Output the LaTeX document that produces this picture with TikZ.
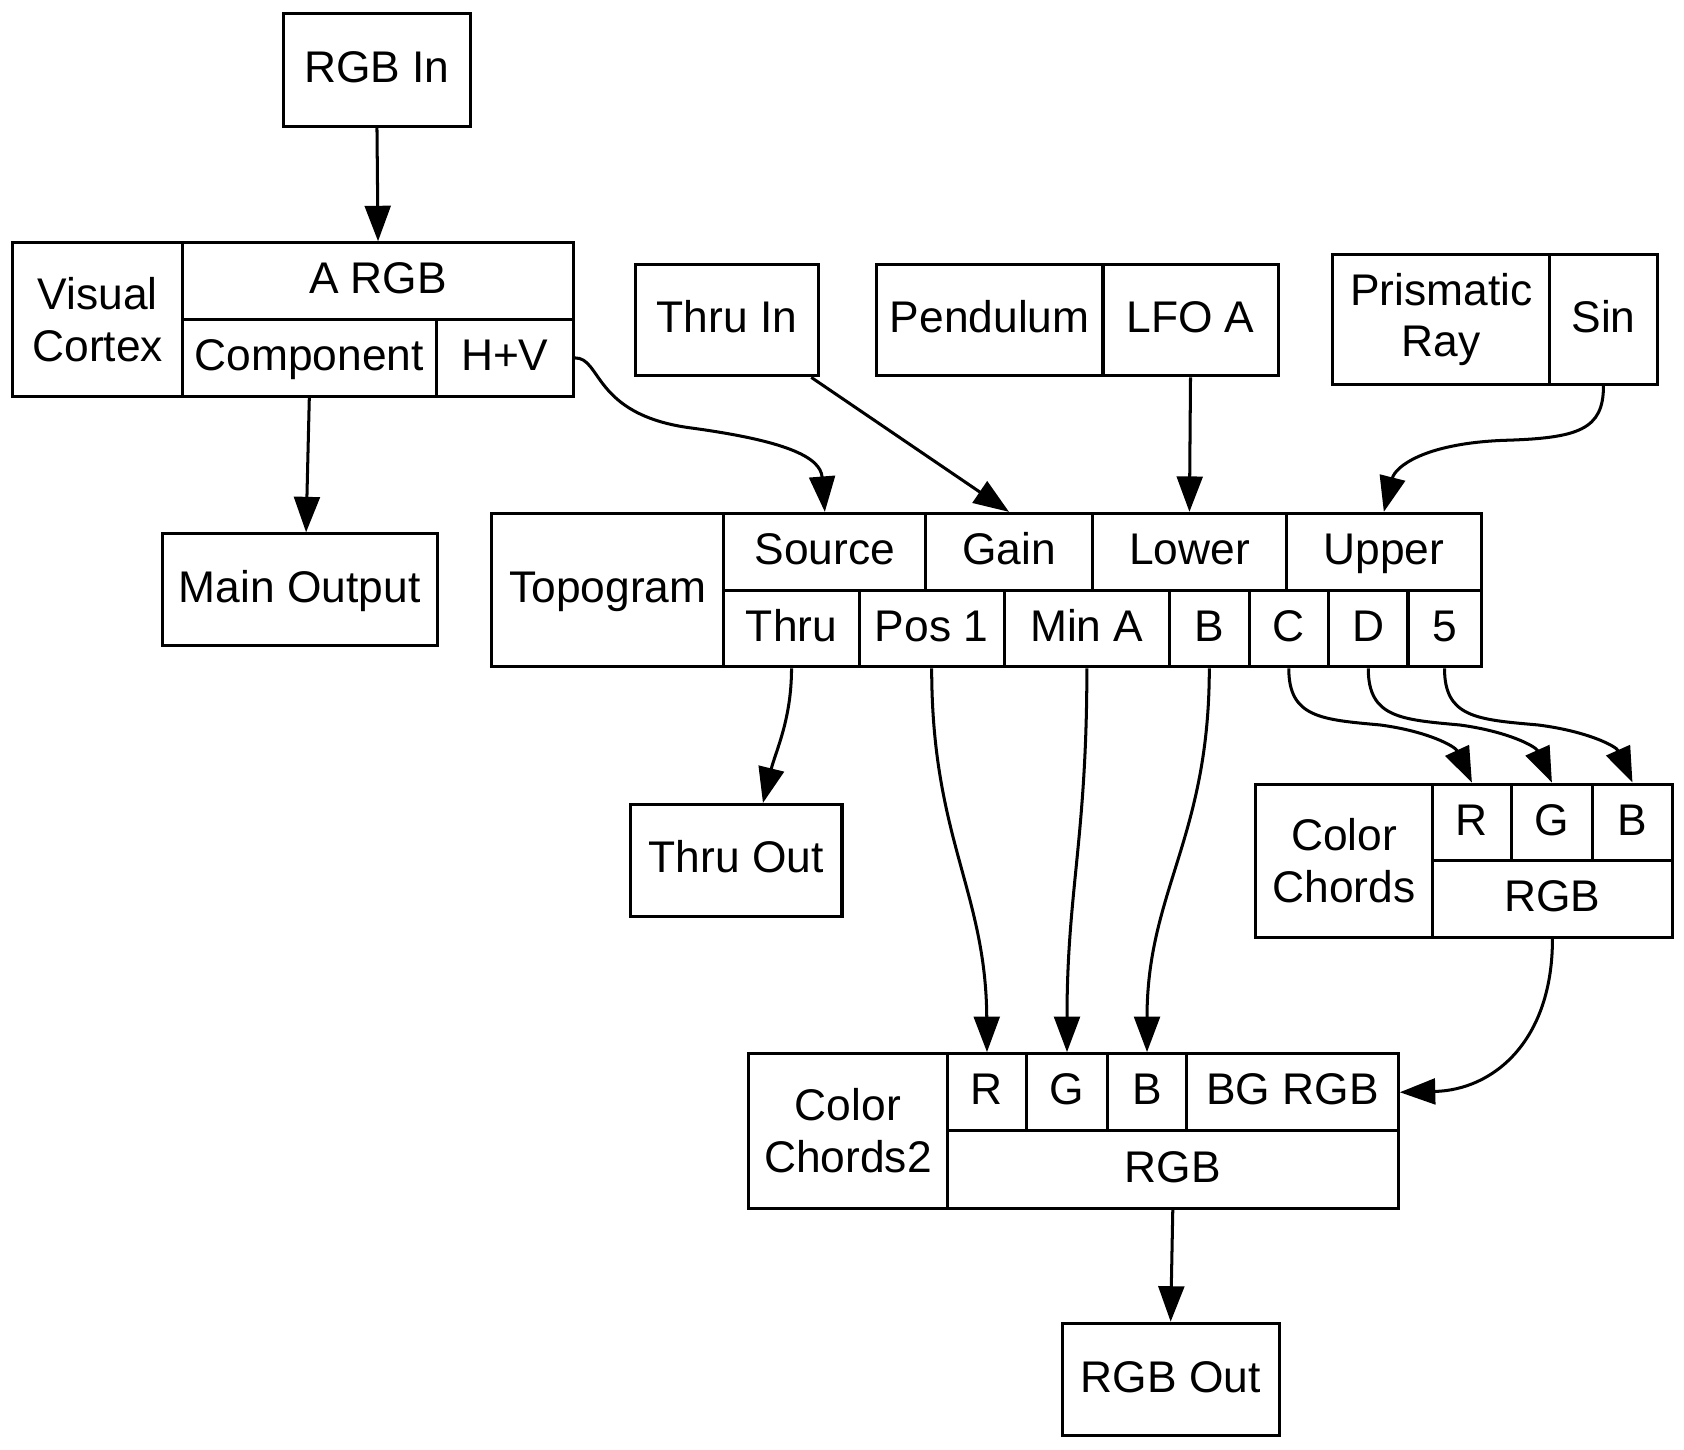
\documentclass[tikz,border=0pt]{standalone}
\usepackage{fontspec}
\setmainfont{Liberation Sans}
\usetikzlibrary{arrows.meta}
\tikzset{>={Triangle[length=6.6mm,width=4.8mm]}}
\tikzstyle{cell} = [rectangle, draw=black, line width=1.6pt, inner sep=0pt, align=center]
\tikzstyle{one} = [text height=18.4pt, text depth=5pt]
\tikzstyle{wire} = [->, line width=1.6pt, draw=black]

\begin{document}
\begin{tikzpicture}[x=0.02cm, y=-0.02cm, font=\fontsize{23.5}{27.5}\selectfont]
\useasboundingbox (0, 0) rectangle (1568, 1350);

% inputs
\node [cell, one, minimum width=3.48cm, minimum height=2.1cm] (RGBin) at (351, 65.5) {RGB In};
\node [cell, one, minimum width=3.4cm, minimum height=2.08cm] (THin) at (677, 298) {Thru In};
\node [cell, one, minimum width=4.22cm, minimum height=2.08cm] (PD0) at (921.5, 298) {Pendulum};
\node [cell, one, minimum width=3.26cm, minimum height=2.08cm] (PD1) at (1108.5, 298) {LFO A};
\node [cell, minimum width=4.04cm, minimum height=2.42cm] (PR0) at (1342, 297.5) {Prismatic\\Ray};
\node [cell, one, minimum width=2cm, minimum height=2.42cm] (PR1) at (1493, 297.5) {Sin};

% visual cortex
\node [cell, minimum width=3.16cm, minimum height=2.86cm] (VC0) at (91, 297.5) {Visual\\Cortex};
\node [cell, one, minimum width=7.28cm, minimum height=1.43cm] (VC1) at (352, 261.75) {A RGB};
\node [cell, one, minimum width=4.72cm, minimum height=1.43cm] (VC2) at (288, 333.25) {Component};
\node [cell, one, minimum width=2.56cm, minimum height=1.43cm] (VC3) at (470, 333.25) {H+V};
\node [cell, one, minimum width=5.12cm, minimum height=2.08cm] (MAINout) at (279, 549) {Main Output};

% topogram
\node [cell, one, minimum width=4.32cm, minimum height=2.86cm] (TP0) at (566, 549.5) {Topogram};
\node [cell, one, minimum width=3.76cm, minimum height=1.43cm] (TP1) at (768, 513.75) {Source};
\node [cell, one, minimum width=3.1cm, minimum height=1.43cm] (TP2) at (939.5, 513.75) {Gain};
\node [cell, one, minimum width=3.62cm, minimum height=1.43cm] (TP3) at (1107.5, 513.75) {Lower};
\node [cell, one, minimum width=3.62cm, minimum height=1.43cm] (TP4) at (1288.5, 513.75) {Upper};
\node [cell, one, minimum width=2.52cm, minimum height=1.43cm] (TP5) at (737, 585.25) {Thru};
\node [cell, one, minimum width=2.7cm, minimum height=1.43cm] (TP6) at (867.5, 585.25) {Pos 1};
\node [cell, one, minimum width=3.08cm, minimum height=1.43cm] (TP7) at (1012, 585.25) {Min A};
\node [cell, one, minimum width=1.48cm, minimum height=1.43cm] (TP8) at (1126, 585.25) {B};
\node [cell, one, minimum width=1.48cm, minimum height=1.43cm] (TP9) at (1200, 585.25) {C};
\node [cell, one, minimum width=1.48cm, minimum height=1.43cm] (TP10) at (1274, 585.25) {D};
\node [cell, one, minimum width=1.36cm, minimum height=1.43cm] (TP11) at (1345, 585.25) {5};
\node [cell, one, minimum width=3.94cm, minimum height=2.08cm] (THout) at (685.5, 801) {Thru Out};

% color chords
\node [cell, minimum width=3.3cm, minimum height=2.86cm] (CC0) at (1251.5, 801.5) {Color\\Chords};
\node [cell, one, minimum width=1.46cm, minimum height=1.43cm] (CC1) at (1370.5, 765.75) {R};
\node [cell, one, minimum width=1.52cm, minimum height=1.43cm] (CC2) at (1445, 765.75) {G};
\node [cell, one, minimum width=1.48cm, minimum height=1.43cm] (CC3) at (1520, 765.75) {B};
\node [cell, one, minimum width=4.46cm, minimum height=1.43cm] (CC4) at (1445.5, 837.25) {RGB};

% color chords2
\node [cell, minimum width=3.7cm, minimum height=2.88cm] (CD0) at (789.5, 1053) {Color\\Chords2};
\node [cell, one, minimum width=1.48cm, minimum height=1.44cm] (CD1) at (919, 1017) {R};
\node [cell, one, minimum width=1.5cm, minimum height=1.44cm] (CD2) at (993.5, 1017) {G};
\node [cell, one, minimum width=1.48cm, minimum height=1.44cm] (CD3) at (1068, 1017) {B};
\node [cell, one, minimum width=3.94cm, minimum height=1.44cm] (CD4) at (1203.5, 1017) {BG RGB};
\node [cell, one, minimum width=8.4cm, minimum height=1.44cm] (CD5) at (1092, 1089) {RGB};
\node [cell, one, minimum width=4.04cm, minimum height=2.1cm] (RGBout) at (1090, 1284.5) {RGB Out};

% wires
\draw [wire] (RGBin.south) to (VC1.north);
\draw [wire] (VC2.south) to ([xshift=0.12cm]MAINout.north);
\draw [wire] (VC3.east) .. controls (560, 333) and (552, 385) .. (640, 398) .. controls (730, 410) and (764, 425) .. (TP1.north);
\draw [wire] (THin) to (TP2.north);
\draw [wire] (PD1.south) to (TP3.north);
\draw [wire] (PR1.south) .. controls (1493, 400) and (1470, 408) .. (1400, 410) .. controls (1325, 413) and (1299, 435) .. (TP4.north);
\draw [wire] (TP5.south) .. controls (737, 670) and (722, 700) .. (THout.65);
\draw [wire] (TP6.south) .. controls (867.5, 780) and (918, 830) .. (CD1.north);
\draw [wire] (TP7.south) .. controls (1012, 780) and (993.5, 830) .. (CD2.north);
\draw [wire] (TP8.south) .. controls (1126, 780) and (1068, 830) .. (CD3.north);
\draw [wire] (TP9.south) .. controls (1200, 668) and (1230, 670) .. (1285, 675) .. controls (1330, 681) and (1355, 695) .. (CC1.north);
\draw [wire] (TP10.south) .. controls (1274, 668) and (1304, 670) .. (1359, 675) .. controls (1404, 681) and (1430, 695) .. (CC2.north);
\draw [wire] (TP11.south) .. controls (1345, 668) and (1375, 670) .. (1432, 675) .. controls (1479, 681) and (1505, 695) .. (CC3.north);
\draw [wire] (CC4.south) .. controls (1445.5, 970) and (1390, 1015) .. (CD4.east);
\draw [wire] (CD5.south) to (RGBout.north);
\end{tikzpicture}
\end{document}
